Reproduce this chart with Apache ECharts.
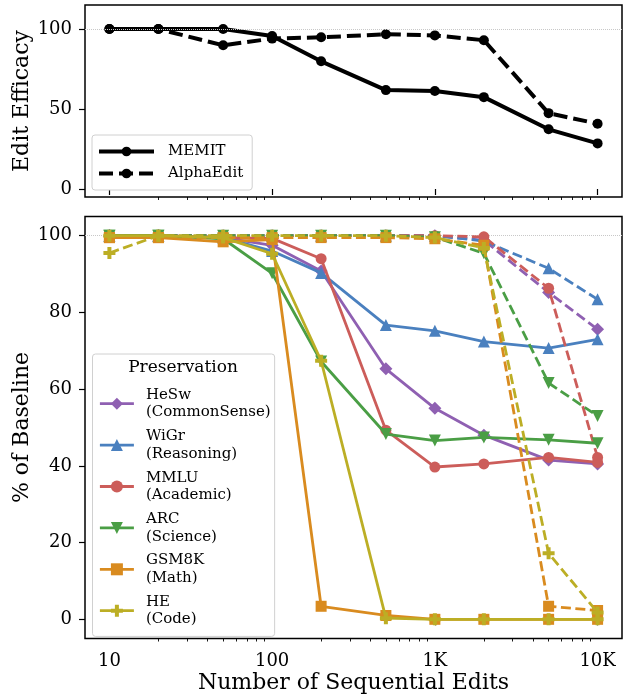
<!DOCTYPE html>
<html>
<head>
<meta charset="utf-8">
<script src="https://cdn.jsdelivr.net/npm/echarts@6/dist/echarts.min.js"></script>
<style>
  html, body { margin: 0; padding: 0; background: #ffffff; }
  #chart { width: 625px; height: 696px; }
</style>
</head>
<body>
<div id="chart"></div>
<script>
// ---- data ----
const edits = [10, 20, 50, 100, 200, 500, 1000, 2000, 5000, 10000];
const xTickValues = [10, 100, 1000, 10000];
const xTickLabels = ['10', '100', '1K', '10K'];
const xMinorValues = [20, 30, 40, 50, 60, 70, 80, 90, 200, 300, 400, 500, 600, 700, 800, 900,
  2000, 3000, 4000, 5000, 6000, 7000, 8000, 9000];
const efficacyTicks = [0, 50, 100];
const baselineTicks = [0, 20, 40, 60, 80, 100];

const methodNames = ['MEMIT', 'AlphaEdit'];
const efficacyMemit = [100, 100, 100, 95.6, 79.8, 61.8, 61.3, 57.4, 37.3, 28.5];
const efficacyAlpha = [100, 100, 89.8, 94.0, 94.8, 96.7, 96.0, 93.0, 47.4, 40.8];

const benchNames = ['HeSw\n(CommonSense)', 'WiGr\n(Reasoning)', 'MMLU\n(Academic)',
  'ARC\n(Science)', 'GSM8K\n(Math)', 'HE\n(Code)'];
const heswMemit = [100, 100, 99.5, 97.5, 90.8, 65.3, 55.0, 48.0, 41.5, 40.5];
const heswAlpha = [100, 100, 100, 100, 100, 100, 100, 98.8, 85.2, 75.6];
const wigrMemit = [100, 100, 99.5, 96.0, 90.3, 76.7, 75.2, 72.4, 70.7, 73.0];
const wigrAlpha = [100, 100, 100, 100, 100, 100, 100, 98.6, 91.5, 83.4];
const mmluMemit = [100, 100, 99.5, 99.3, 94.0, 49.3, 39.7, 40.5, 42.2, 40.9];
const mmluAlpha = [100, 100, 100, 100, 100, 100, 100, 99.7, 86.3, 42.2];
const arcMemit = [100, 100, 99.2, 90.2, 67.2, 48.3, 46.6, 47.4, 46.8, 45.9];
const arcAlpha = [100, 100, 100, 100, 100, 100, 99.6, 95.4, 61.6, 53.0];
const gsmMemit = [99.5, 99.5, 98.4, 99.0, 3.4, 1.0, 0, 0, 0, 0];
const gsmAlpha = [99.5, 99.5, 99.5, 99.5, 99.5, 99.5, 99.2, 97.5, 3.4, 2.3];
const heMemit = [100, 100, 99.5, 95.3, 67.4, 0.3, 0, 0, 0, 0];
const heAlpha = [95.5, 100, 100, 100, 100, 100, 99.5, 96.8, 17.2, 1.8];

const benchColors = ['#8f60b2', '#4a80bf', '#cc5d5a', '#4a9e45', '#d98b1f', '#bcae25'];
const benchSymbols = ['diamond', 'triangle', 'circle', 'triangle', 'rect',
  'path://M1,0H2V1H3V2H2V3H1V2H0V1H1Z'];
const benchRotate = [0, 0, 0, 180, 0, 0];
const benchSizes = [13, 12, 11, 12, 11, 12];

// ---- helpers ----
const FONT = 'DejaVu Serif';
const pair = vals => edits.map((e, i) => [e, vals[i]]);
const X_MIN = Math.pow(10, 0.85);
const X_MAX = Math.pow(10, 4.15);

function majorX(gridIndex, withLabels) {
  return {
    type: 'log', gridIndex, min: X_MIN, max: X_MAX, position: 'bottom',
    axisLine: { show: false },
    splitLine: { show: false },
    axisTick: { show: true, customValues: xTickValues, length: 6, lineStyle: { color: '#000', width: 1.2 } },
    axisLabel: {
      show: withLabels, customValues: xTickValues, margin: 14,
      fontFamily: FONT, fontSize: 18, color: '#000',
      formatter: v => xTickLabels[xTickValues.indexOf(Math.round(v))] || ''
    },
    name: withLabels ? 'Number of Sequential Edits' : '',
    nameLocation: 'middle', nameGap: 34, nameMoveOverlap: false,
    nameTextStyle: { fontFamily: FONT, fontSize: 22, color: '#000' }
  };
}
function minorX(gridIndex) {
  return {
    type: 'log', gridIndex, min: X_MIN, max: X_MAX, position: 'bottom',
    axisLine: { show: false }, splitLine: { show: false },
    axisTick: { show: true, customValues: xMinorValues, length: 3, lineStyle: { color: '#000', width: 0.9 } },
    axisLabel: { show: false }
  };
}
function yAxisFor(gridIndex, min, max, ticks, title) {
  return {
    type: 'value', gridIndex, min, max,
    axisLine: { show: false }, splitLine: { show: false },
    axisTick: { show: true, customValues: ticks, length: 6, lineStyle: { color: '#000', width: 1.2 } },
    axisLabel: { customValues: ticks, margin: 13, fontFamily: FONT, fontSize: 18, color: '#000' },
    name: title, nameLocation: 'middle', nameGap: 52, nameMoveOverlap: false,
    nameTextStyle: { fontFamily: FONT, fontSize: 22, color: '#000' }
  };
}
const refLine = {
  silent: true, symbol: ['none', 'none'], label: { show: false },
  lineStyle: { color: '#c8c8c8', type: 'dotted', width: 1 },
  emphasis: { disabled: true },
  data: [{ yAxis: 100 }]
};

// ---- series ----
const series = [];
series.push({
  name: methodNames[0], type: 'line', xAxisIndex: 0, yAxisIndex: 0,
  data: pair(efficacyMemit), symbol: 'circle', symbolSize: 10,
  itemStyle: { color: '#000' }, lineStyle: { color: '#000', width: 4 }, z: 3
});
series.push({
  name: methodNames[1], type: 'line', xAxisIndex: 0, yAxisIndex: 0,
  data: pair(efficacyAlpha), symbol: 'circle', symbolSize: 10,
  itemStyle: { color: '#000' }, lineStyle: { color: '#000', width: 4, type: [14, 6] }, z: 4,
  markLine: refLine
});

const benchMemit = [heswMemit, wigrMemit, mmluMemit, arcMemit, gsmMemit, heMemit];
const benchAlpha = [heswAlpha, wigrAlpha, mmluAlpha, arcAlpha, gsmAlpha, heAlpha];
benchNames.forEach((name, k) => {
  const common = {
    name, type: 'line', xAxisIndex: 2, yAxisIndex: 1,
    symbol: benchSymbols[k], symbolSize: benchSizes[k], symbolRotate: benchRotate[k],
    itemStyle: { color: benchColors[k] }
  };
  series.push(Object.assign({}, common, {
    data: pair(benchMemit[k]),
    lineStyle: { color: benchColors[k], width: 2.8 }, z: 3 + 2 * k
  }));
  const dashed = Object.assign({}, common, {
    data: pair(benchAlpha[k]),
    lineStyle: { color: benchColors[k], width: 2.8, type: [10, 4.5] }, z: 4 + 2 * k
  });
  if (k === benchNames.length - 1) dashed.markLine = refLine;
  series.push(dashed);
});

const chart = echarts.init(document.getElementById('chart'), null, { renderer: 'canvas' });
chart.setOption({
  animation: false,
  backgroundColor: '#ffffff',
  grid: [
    { left: 85, right: 3, top: 5, height: 192, outerBoundsMode: 'none', show: true, borderColor: '#000', borderWidth: 1.5, backgroundColor: 'transparent' },
    { left: 85, right: 3, top: 216.5, height: 422, outerBoundsMode: 'none', show: true, borderColor: '#000', borderWidth: 1.5, backgroundColor: 'transparent' }
  ],
  xAxis: [majorX(0, false), minorX(0), majorX(1, true), minorX(1)],
  yAxis: [
    yAxisFor(0, -5, 115, efficacyTicks, 'Edit Efficacy'),
    yAxisFor(1, -5, 105, baselineTicks, '% of Baseline')
  ],
  legend: [
    {
      data: methodNames, orient: 'vertical', left: 92, top: 135, z: 50,
      itemWidth: 55, itemHeight: 12, itemGap: 7, selectedMode: false,
      padding: [9, 9, 9, 5],
      lineStyle: { width: 4 },
      backgroundColor: '#ffffff', borderColor: '#d0d0d0', borderWidth: 1, borderRadius: 3,
      textStyle: { fontFamily: FONT, fontSize: 15, color: '#000', padding: [0, 0, 0, 9] }
    },
    {
      data: benchNames, orient: 'vertical', left: 92.5, top: 354, z: 50,
      itemWidth: 34, itemHeight: 15, itemGap: 6, selectedMode: false,
      padding: [32, 4, 8, 6],
      lineStyle: { width: 2.8 },
      backgroundColor: '#ffffff', borderColor: '#d0d0d0', borderWidth: 1, borderRadius: 3,
      textStyle: { fontFamily: FONT, fontSize: 15, lineHeight: 17.7, color: '#000', padding: [0, 0, 0, 7] }
    }
  ],
  graphic: [{
    type: 'text', x: 183, y: 359, z: 100, silent: true,
    style: { text: 'Preservation', fontFamily: FONT, fontSize: 17, fill: '#000', textAlign: 'center' }
  }],
  series
});
</script>
</body>
</html>
